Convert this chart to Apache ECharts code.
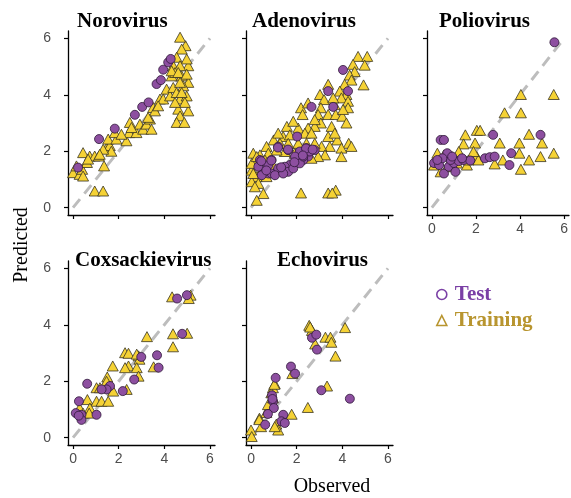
<!DOCTYPE html>
<html><head><meta charset="utf-8">
<script src="https://cdn.jsdelivr.net/npm/echarts@6/dist/echarts.min.js"></script>
<style>html,body{margin:0;padding:0;background:#fff}#c{width:571px;height:498px}</style>
</head><body><div id="c"></div>
<script>
// ---- data: [observed, predicted] ----
const noroTest = [[0.22,1.42],[1.14,2.43],[1.83,2.8],[2.71,3.29],[3.03,3.57],[3.31,3.73],[3.66,4.38],[3.85,4.52],[3.95,4.89],[4.17,5.15],[4.28,5.27]];
const noroTrain = [[0,1.24],[0.29,1.18],[0.4,1.36],[0.44,1.95],[0.61,1.6],[0.73,1.83],[0.95,1.83],[1.13,1.83],[0.95,0.59],[1.32,0.59],[1.36,1.48],[1.46,2.1],[1.61,2.2],[1.54,2.43],[1.9,2.43],[1.83,2.66],[2.34,2.37],[2.49,3.02],[2.46,2.66],[2.78,2.66],[2.93,2.96],[3.07,2.78],[3.22,2.96],[3.44,2.78],[3.37,3.14],[3.51,3.55],[3.59,3.43],[3.81,3.85],[3.95,3.85],[4.1,4.2],[4.25,3.96],[4.32,4.67],[4.39,4.26],[4.54,4.08],[4.69,3.85],[4.61,3.49],[4.69,3.25],[4.54,3.02],[4.88,3.02],[5.05,3.43],[4.98,3.96],[5.05,4.44],[5.05,5.03],[4.98,5.27],[4.93,5.74],[4.69,6.04],[4.76,5.62],[4.54,5.33],[4.39,5.03],[4.69,5.03],[4.76,4.67],[4.47,4.79],[4.32,4.85],[4.83,4.32],[4.69,4.44],[4.9,3.73],[4.47,3.73],[4.76,4.08],[4.61,4.79],[4.98,4.73],[3.73,3.61],[3.29,3.2],[2.56,2.84],[2.12,2.6],[1.68,2.0],[1.32,2.07],[1.17,1.89],[0.66,1.72],[0.15,1.48],[0.44,1.12]];

const adenoTest = [[4.03,4.88],[3.38,4.13],[4.25,4.13],[2.65,3.57],[3.6,3.57],[2.02,2.52],[1.19,2.16],[1.63,2.04],[2.14,1.99],[2.43,2.11],[2.79,2.04],[0.39,1.69],[0.9,1.69],[2.5,1.81],[2.29,1.69],[2.0,1.63],[1.7,1.51],[1.48,1.45],[1.34,1.33],[1.12,1.27],[0.76,1.21],[0.54,1.27],[0.61,1.39],[0.9,1.21],[1.19,1.39],[1.63,1.27],[1.85,1.39],[2.14,1.57],[0.32,1.45],[0.47,1.15],[1.05,1.15],[1.41,1.21],[2.29,1.81],[2.58,1.99],[1.93,1.81],[0.76,1.51],[1.62,2.06],[1.18,2.13],[2.41,2.1],[2.7,2.06],[0.45,1.65],[0.89,1.67],[2.27,1.85],[1.9,1.61],[1.32,1.43],[0.67,1.32]];
const adenoTrain = [[4.69,5.36],[5.09,5.36],[4.47,5.08],[4.98,5.05],[4.54,4.82],[4.32,4.7],[4.4,4.52],[4.93,4.35],[3.38,4.37],[4.1,4.37],[3.89,4.13],[4.18,4.01],[3.02,4.01],[3.96,3.89],[4.25,3.77],[4.25,3.54],[3.2,3.83],[3.66,3.65],[3.06,3.54],[2.19,3.54],[2.26,3.3],[2.94,3.3],[3.38,3.3],[3.71,3.3],[4.0,3.24],[4.18,3.0],[3.53,2.88],[3.06,3.0],[2.79,2.88],[2.5,2.82],[2.07,2.82],[1.57,2.88],[1.85,3.06],[1.41,2.52],[0.99,2.4],[0.68,2.17],[0.1,1.93],[0.17,1.51],[0.03,1.33],[0.25,1.1],[0.03,0.92],[0.54,0.5],[0.25,0.26],[2.19,0.52],[3.38,0.52],[3.71,0.62],[3.56,0.52],[3.78,2.4],[4.28,2.28],[4.4,2.17],[3.96,2.11],[3.45,2.17],[3.09,2.17],[2.79,2.28],[2.43,2.28],[2.07,2.28],[3.96,1.81],[3.24,1.87],[2.94,1.81],[2.65,1.75],[1.92,1.93],[1.48,1.99],[1.12,2.04],[0.76,1.93],[0.39,1.87],[0.03,1.57],[1.0,1.45],[0.47,1.33],[0.1,1.21],[0.32,0.86],[0.68,1.1],[0.17,0.74],[2.36,2.64],[2.65,2.64],[1.7,2.58],[1.19,2.64],[2.79,3.12],[2.5,3.71],[3.6,3.89],[4.03,3.48],[3.38,2.52],[3.67,2.64],[1.63,2.28],[1.27,2.28],[0.61,1.69],[0.25,1.81]];

const polioTest = [[5.56,5.86],[4.93,2.58],[2.78,2.58],[3.6,1.93],[3.52,1.51],[0.4,2.4],[0.55,2.4],[0.1,1.58],[0.33,1.51],[0.55,1.21],[0.77,1.45],[1.0,1.58],[1.22,1.65],[0.85,1.69],[0.7,1.93],[1.44,1.69],[1.74,1.67],[2.41,1.75],[2.63,1.79],[2.85,1.81],[1.07,1.27],[0.48,1.75],[0.25,1.69],[1.37,1.75],[0.92,1.81]];
const polioTrain = [[4.04,4.01],[5.53,4.01],[3.3,3.36],[4.04,3.36],[2.04,2.74],[2.19,2.74],[1.52,2.58],[3.08,2.29],[1.96,2.29],[1.44,2.26],[4.41,2.6],[3.97,2.29],[5.0,2.29],[3.97,1.93],[5.53,1.93],[4.93,1.81],[4.41,1.69],[3.22,1.69],[2.85,1.55],[4.04,1.36],[0.25,1.93],[0.1,1.51],[0.4,1.27],[0.7,1.45],[0.92,1.81],[1.22,1.99],[1.14,1.58],[1.59,1.51],[2.04,1.81],[2.11,1.69],[1.89,1.99],[0.55,1.87],[1.66,1.69]];

const coxTest = [[4.99,5.05],[4.56,4.93],[4.78,3.68],[3.68,2.92],[3.75,2.48],[2.99,2.86],[2.68,2.06],[2.18,1.65],[1.62,1.83],[1.47,1.71],[1.25,1.71],[0.62,1.91],[0.26,1.29],[0.12,0.87],[0.37,0.81],[0.37,0.63],[1.03,0.81],[0.25,0.78]];
const coxTrain = [[4.34,4.99],[5.15,5.05],[5.07,4.93],[4.38,3.68],[5.0,3.7],[4.38,3.22],[3.24,3.58],[2.28,3.01],[2.43,2.99],[2.87,2.9],[2.91,2.78],[2.43,2.54],[2.28,2.48],[2.79,2.48],[3.53,2.51],[1.74,2.54],[1.5,2.15],[1.76,1.65],[2.35,1.71],[1.03,1.77],[0.63,1.35],[1.03,1.29],[1.25,1.29],[1.54,1.29],[0.74,1.05],[0.29,1.05],[0.44,0.87],[0.71,0.87],[2.87,2.18],[2.79,2.96],[1.18,1.77],[1.47,2.0]];

const echoTest = [[2.67,3.54],[2.86,3.65],[2.89,3.12],[1.75,2.52],[1.93,2.27],[1.08,2.12],[3.08,1.68],[4.33,1.38],[0.92,1.5],[0.96,1.29],[1.0,1.05],[0.74,0.84],[0.62,0.46],[1.41,0.81],[1.33,0.58],[1.48,0.52],[0.94,1.37]];
const echoTrain = [[2.55,3.98],[2.67,3.8],[2.81,3.32],[3.26,3.56],[3.48,3.56],[3.52,3.38],[4.12,3.9],[3.7,2.89],[1.81,2.27],[1.04,1.91],[0.96,1.77],[0.89,1.59],[0.81,1.17],[3.33,1.83],[2.49,1.07],[1.78,0.83],[0.37,0.69],[0.44,0.39],[0.0,0.27],[0.03,0.04],[1.11,0.48],[1.19,0.27],[1.04,0.39],[0.67,0.89],[0.74,1.17],[0.96,1.41],[2.59,3.92],[1.02,1.89],[0.36,0.64]];

const panelNames = ['Norovirus','Adenovirus','Poliovirus','Coxsackievirus','Echovirus'];
const testSets = [noroTest, adenoTest, polioTest, coxTest, echoTest];
const trainSets = [noroTrain, adenoTrain, polioTrain, coxTrain, echoTrain];
const tickValues = [0, 2, 4, 6];
const identityLine = [[0,0],[6,6]];
const legendNames = ['Test', 'Training'];
const xTitle = 'Observed';
const yTitle = 'Predicted';

// ---- layout ----
const colLeft = [68, 246, 427];
const rowTop = [31, 261];
const gw = 147, gh = 184;
const layout = [
  {c:0,r:0,xl:false,yl:true, tx:77},
  {c:1,r:0,xl:false,yl:false, tx:252},
  {c:2,r:0,xl:true,yl:false, tx:439},
  {c:0,r:1,xl:true,yl:true, tx:75},
  {c:1,r:1,xl:true,yl:false, tx:277}
];
const PURPLE = '#8D4FA0', YELLOW = '#F5D235';
const grid = [], xAxis = [], yAxis = [], series = [], graphic = [];
layout.forEach((p, i) => {
  grid.push({left: colLeft[p.c], top: rowTop[p.r], width: gw, height: gh, containLabel:false});
  const axCommon = {
    type:'value', gridIndex:i, splitLine:{show:false},
    axisLine:{show:true, onZero:false, lineStyle:{color:'#000', width:1.3}},
    axisTick:{show:true, customValues:tickValues, length:4, lineStyle:{color:'#000', width:1.2}}
  };
  xAxis.push(Object.assign({}, axCommon, {min:-0.22, max:6.22,
    axisLabel:{show:p.xl, customValues:tickValues, color:'#4D4D4D', fontSize:14, fontFamily:'Liberation Sans', margin:7}}));
  yAxis.push(Object.assign({}, axCommon, {min:-0.26, max:6.26,
    axisLabel:{show:p.yl, customValues:tickValues, color:'#4D4D4D', fontSize:14, fontFamily:'Liberation Sans', margin:17}}));
  series.push({type:'line', xAxisIndex:i, yAxisIndex:i, data:identityLine, symbol:'none', silent:true, z:1,
    lineStyle:{color:'#BDBDBD', width:3, type:[11,7]}});
  series.push({type:'scatter', name:legendNames[1], xAxisIndex:i, yAxisIndex:i, data:trainSets[i], symbol:'triangle', symbolSize:[11,10], z:2,
    itemStyle:{color:YELLOW, borderColor:'#3a3520', borderWidth:0.8, opacity:1}});
  series.push({type:'scatter', name:legendNames[0], xAxisIndex:i, yAxisIndex:i, data:testSets[i], symbol:'circle', symbolSize:9, z:3,
    itemStyle:{color:PURPLE, borderColor:'#2e1838', borderWidth:0.8, opacity:1}});
  graphic.push({type:'text', x:p.tx, y: p.r===0 ? 22 : 261, style:{text:panelNames[i], font:'bold 21px "Liberation Serif"', fill:'#000', align:'left', verticalAlign:'middle'}});
});
graphic.push({type:'text', x:332, y:487, style:{text:xTitle, font:'20px "Liberation Serif"', fill:'#000', align:'center', verticalAlign:'middle'}});
graphic.push({type:'text', x:22, y:245, rotation:Math.PI/2, style:{text:yTitle, font:'20px "Liberation Serif"', fill:'#000', align:'center', verticalAlign:'middle'}});

const chart = echarts.init(document.getElementById('c'), null, {renderer:'canvas'});
chart.setOption({
  animation:false,
  backgroundColor:'#fff',
  grid, xAxis, yAxis, series, graphic,
  legend:{
    orient:'vertical', left:431, top:279, itemGap:5, itemWidth:10, itemHeight:10, selectedMode:false,
    textStyle:{fontFamily:'Liberation Serif', fontWeight:'bold', fontSize:21, padding:[0,0,0,3]},
    data:[
      {name:legendNames[0], icon:'circle', itemStyle:{color:'rgba(0,0,0,0)', borderColor:'#7A3FA5', borderWidth:1.6}, textStyle:{color:'#7A3FA5'}},
      {name:legendNames[1], icon:'triangle', itemStyle:{color:'rgba(0,0,0,0)', borderColor:'#B8952F', borderWidth:1.6}, textStyle:{color:'#B8952F'}}
    ]
  }
});
</script></body></html>
